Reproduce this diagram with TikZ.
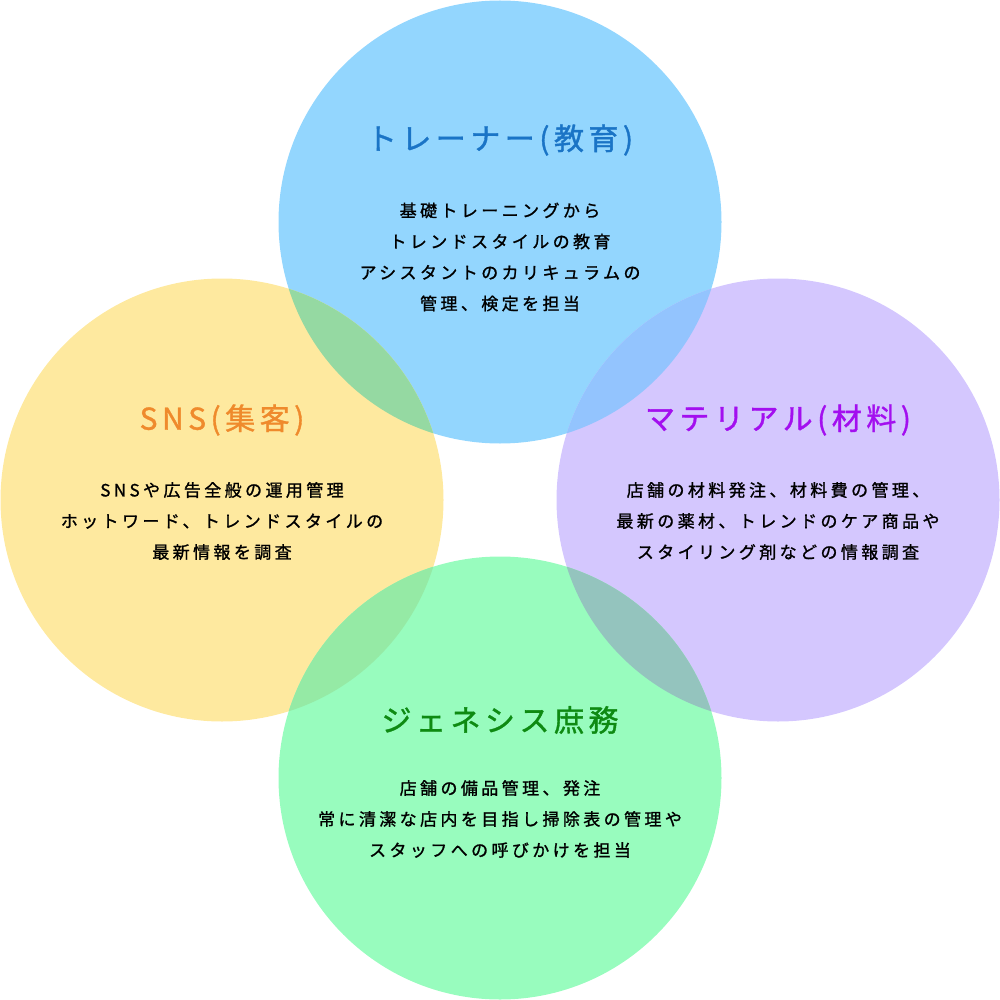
\documentclass[tikz,border=0pt]{standalone}
\usepackage{fontspec}
\usepackage{xcolor}
\usepackage{tikz}
\usetikzlibrary{positioning}
\newfontfamily\jpbody[LetterSpace=20,FakeBold=1.2]{Noto Sans CJK JP}
\newfontfamily\jptitle[LetterSpace=15,FakeBold=1.2]{Noto Sans CJK JP}
\definecolor{TrainerFill}{HTML}{93D6FE}
\definecolor{SnsFill}{HTML}{FEE99F}
\definecolor{MaterialFill}{HTML}{D4C7FE}
\definecolor{GenesisFill}{HTML}{98FCBE}
\definecolor{TrainerSns}{HTML}{95D9A2}
\definecolor{TrainerMaterial}{HTML}{93C4FE}
\definecolor{SnsGenesis}{HTML}{95EAA5}
\definecolor{MaterialGenesis}{HTML}{94C4BE}
\definecolor{TrainerText}{HTML}{1A74C6}
\definecolor{SnsText}{HTML}{EF8A2C}
\definecolor{MaterialText}{HTML}{A30FEF}
\definecolor{GenesisText}{HTML}{0E8A12}

\begin{document}
\begin{tikzpicture}[
    x=1pt, y=-1pt,
    bubble/.style={circle, minimum size=443pt, inner sep=0pt},
    heading/.style={font=\jptitle\fontsize{30}{30}\selectfont},
    body/.style={align=center, text=black, font=\jpbody\fontsize{17}{31}\selectfont}
]
\useasboundingbox (0,0) rectangle (1000,1000);

% Circles
\node[bubble, fill=TrainerFill] (trainer) at (500,222) {};
\node[bubble, fill=SnsFill] (sns) at (222,500) {};
\node[bubble, fill=MaterialFill] (material) at (778,500) {};
\node[bubble, fill=GenesisFill] (genesis) at (500,778) {};

% Overlaps
\begin{scope}
  \clip (trainer.center) circle[radius=221.5pt];
  \fill[TrainerSns] (sns.center) circle[radius=221.5pt];
  \fill[TrainerMaterial] (material.center) circle[radius=221.5pt];
\end{scope}
\begin{scope}
  \clip (genesis.center) circle[radius=221.5pt];
  \fill[SnsGenesis] (sns.center) circle[radius=221.5pt];
  \fill[MaterialGenesis] (material.center) circle[radius=221.5pt];
\end{scope}

% Texts
\node[heading, text=TrainerText] (trainerhead) at (500,140) {トレーナー(教育)};
\node[body] (trainerbody) at (500,257) {基礎トレーニングから\\トレンドスタイルの教育\\アシスタントのカリキュラムの\\管理、検定を担当};

\node[heading, text=SnsText] (snshead) at (222,420) {SNS(集客)};
\node[body] (snsbody) at (222,521) {SNSや広告全般の運用管理\\ホットワード、トレンドスタイルの\\最新情報を調査};

\node[heading, text=MaterialText] (materialhead) at (778,420) {マテリアル(材料)};
\node[body] (materialbody) at (778,521) {店舗の材料発注、材料費の管理、\\最新の薬材、トレンドのケア商品や\\スタイリング剤などの情報調査};

\node[heading, text=GenesisText] (genesishead) at (500,720) {ジェネシス庶務};
\node[body] (genesisbody) at (500,819) {店舗の備品管理、発注\\常に清潔な店内を目指し掃除表の管理や\\スタッフへの呼びかけを担当};

\end{tikzpicture}
\end{document}
